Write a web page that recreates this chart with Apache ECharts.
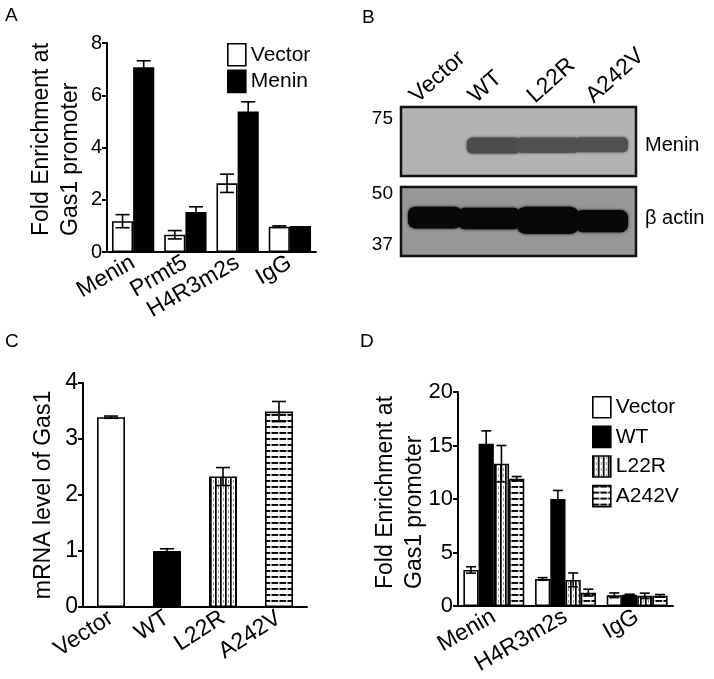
<!DOCTYPE html>
<html><head><meta charset="utf-8">
<script src="https://cdn.jsdelivr.net/npm/echarts@6/dist/echarts.min.js"></script>
<style>html,body{margin:0;padding:0;background:#fff}#c{width:714px;height:679px}</style>
</head><body><div id="c"></div>
<script>
// ---------- Panel A data ----------
const aCategories = ['Menin', 'Prmt5', 'H4R3m2s', 'IgG'];
const aVector = [1.18, 0.66, 2.63, 0.97];
const aVectorErr = [0.25, 0.16, 0.35, 0.03];
const aMenin = [7.07, 1.53, 5.38, 1.0];
const aMeninErr = [0.25, 0.2, 0.37, 0];
const aTicks = [0, 2, 4, 6, 8];
const aTitle = 'Fold Enrichment at\nGas1 promoter';

// ---------- Panel B data (western blot) ----------
const bLanes = ['Vector', 'WT', 'L22R', 'A242V'];
// [lane, low kDa, high kDa, density]
const bMeninBands = [[0, 62, 67, 0], [1, 61.6, 67.4, 0.6], [2, 61.8, 67.4, 0.58], [3, 62.0, 67.5, 0.58]];
const bActinBands = [[0, 40.8, 46.4, 1], [1, 40.6, 46.1, 1], [2, 39.5, 46.4, 1], [3, 39.9, 45.5, 1]];
const bMarkersTop = [75];
const bMarkersBottom = [50, 37];
const bRowTop = [['Menin', 64.5]];
const bRowBottom = [['β actin', 43.3]];
const bTopRange = [54.2, 80.2];
const bBottomRange = [34.7, 52.1];

// ---------- Panel C data ----------
const cCategories = ['Vector', 'WT', 'L22R', 'A242V'];
const cValues = [3.39, 1.0, 2.33, 3.49];
const cErr = [0.02, 0.04, 0.16, 0.18];
const cTicks = [0, 1, 2, 3, 4];
const cTitle = 'mRNA level of Gas1';

// ---------- Panel D data ----------
const dCategories = ['Menin', 'H4R3m2s', 'IgG'];
const dVector = [3.37, 2.53, 1.0];
const dVectorErr = [0.3, 0.12, 0.22];
const dWT = [15.17, 10.0, 1.05];
const dWTErr = [1.2, 0.8, 0.05];
const dL22R = [13.3, 2.44, 0.95];
const dL22RErr = [1.7, 0.65, 0.25];
const dA242V = [11.9, 1.25, 0.95];
const dA242VErr = [0.2, 0.32, 0.12];
const dTicks = [0, 5, 10, 15, 20];
const dTitle = 'Fold Enrichment at\nGas1 promoter';

// ---------- styles ----------
const FONT = 'Liberation Sans, Arial, sans-serif';
function makeVPattern() {
  const c = document.createElement('canvas'); c.width = 5; c.height = 6;
  const g = c.getContext('2d');
  g.fillStyle = '#fff'; g.fillRect(0, 0, 5, 6);
  g.fillStyle = '#000'; g.fillRect(0, 0, 1.7, 6);
  g.fillStyle = '#888'; g.fillRect(3, 0, 0.9, 3);
  return c;
}
function makeHPattern() {
  const c = document.createElement('canvas'); c.width = 8; c.height = 6;
  const g = c.getContext('2d');
  g.fillStyle = '#fff'; g.fillRect(0, 0, 8, 6);
  g.fillStyle = '#000'; g.fillRect(0, 0, 6, 1.9);
  g.fillStyle = '#777'; g.fillRect(6.5, 0, 1.5, 1.9);
  return c;
}
const vPat = { image: makeVPattern(), repeat: 'repeat' };
const hPat = { image: makeHPattern(), repeat: 'repeat' };
const styleWhite = { color: '#fff', borderColor: '#000', borderWidth: 1.6 };
const styleBlack = { color: '#000', borderColor: '#000', borderWidth: 1.6 };
const styleV = { color: vPat, borderColor: '#000', borderWidth: 1.6 };
const styleH = { color: hPat, borderColor: '#000', borderWidth: 1.6 };
const cStyles = [styleWhite, styleBlack, styleV, styleH];

function valAxis(idx, ticks, fs, name, nameGap) {
  return {
    type: 'value', gridIndex: idx, min: ticks[0], max: ticks[ticks.length - 1], interval: ticks[1] - ticks[0],
    splitLine: { show: false },
    axisLine: { show: true, lineStyle: { color: '#000', width: 2 } },
    axisTick: { show: true, length: 5, lineStyle: { color: '#000', width: 2 } },
    axisLabel: { color: '#000', fontSize: fs, fontFamily: FONT, margin: 5 },
    name: name, nameLocation: 'middle', nameGap: nameGap,
    nameTextStyle: { color: '#000', fontSize: 23, fontFamily: FONT, lineHeight: 29 }
  };
}
function catAxis(idx, data, rotate, fs) {
  return {
    type: 'category', gridIndex: idx, data: data,
    axisLine: { lineStyle: { color: '#000', width: 2 } },
    axisTick: { alignWithLabel: true, length: 5, lineStyle: { color: '#000', width: 2 } },
    axisLabel: { rotate: rotate, fontSize: fs, color: '#000', fontFamily: FONT, margin: 9, interval: 0 }
  };
}
function errRender(k, n, gap, cap, lw) {
  return function (params, api) {
    const i = api.value(0), lo = api.value(1), hi = api.value(2);
    if (hi - lo <= 0) return;
    const ct = api.coord([i, hi]), cb = api.coord([i, lo]);
    const bw = api.size([1, 0])[0];
    const barW = bw * (1 - gap) / n;
    const x = ct[0] + (k - (n - 1) / 2) * barW;
    const st = { stroke: '#000', lineWidth: lw };
    return { type: 'group', children: [
      { type: 'line', shape: { x1: x, y1: ct[1], x2: x, y2: cb[1] }, style: st },
      { type: 'line', shape: { x1: x - cap, y1: ct[1], x2: x + cap, y2: ct[1] }, style: st },
      { type: 'line', shape: { x1: x - cap, y1: cb[1], x2: x + cap, y2: cb[1] }, style: st }
    ] };
  };
}
function errSeries(xi, vals, errs, k, n, gap, cap) {
  return {
    type: 'custom', xAxisIndex: xi, yAxisIndex: xi, clip: false, z: 5, silent: true,
    data: vals.map((v, i) => [i, v - errs[i], v + errs[i]]),
    encode: { x: 0, y: [1, 2] },
    renderItem: errRender(k, n, gap, cap, 1.6)
  };
}
function bandRender(bands, bg) {
  return function (params, api) {
    const idx = params.dataIndex;
    const lane = api.value(0), lo = api.value(1), hi = api.value(2), d = api.value(3);
    if (!d) return;
    const top = api.coord([lane, hi]), bot = api.coord([lane, lo]);
    const w = params.coordSys.width / bLanes.length;
    const openLeft = idx === 0 || !bands[idx - 1][3];
    const openRight = idx === bands.length - 1 || !bands[idx + 1][3];
    const x0 = top[0] - w / 2 + (openLeft ? 7 : -2);
    const x1 = top[0] + w / 2 - (openRight ? 8 : -2);
    const g = Math.round(bg * (1 - d) + 8 * d);
    const col = 'rgb(' + g + ',' + g + ',' + g + ')';
    const h = bot[1] - top[1];
    return { type: 'rect', shape: { x: x0, y: top[1], width: x1 - x0, height: h, r: h / 3 },
      style: { fill: col, shadowBlur: 3, shadowColor: col } };
  };
}
function markerRender(params, api) {
  const v = api.value(0);
  const p = api.coord([0, v]);
  return { type: 'text', x: params.coordSys.x - 8, y: p[1],
    style: { text: String(v), fill: '#000', font: '19px ' + FONT, align: 'right', verticalAlign: 'middle' } };
}
function rowLabelRender(rows) {
  return function (params, api) {
    const p = api.coord([0, api.value(1)]);
    return { type: 'text', x: params.coordSys.x + params.coordSys.width + 9, y: p[1],
      style: { text: rows[params.dataIndex][0], fill: '#000', font: '20px ' + FONT, align: 'left', verticalAlign: 'middle' } };
  };
}
function laneLabelRender(params, api) {
  const p = api.coord([api.value(0), bTopRange[1]]);
  return { type: 'text', x: p[0] - 17, y: p[1] - 8, rotation: 42 * Math.PI / 180,
    style: { text: bLanes[params.dataIndex], fill: '#000', font: '23px ' + FONT, align: 'left', verticalAlign: 'middle' } };
}
function yTitle(text, x, y) {
  return { type: 'text', x: x, y: y, rotation: Math.PI / 2,
    style: { text: text, fill: '#000', font: '23px ' + FONT, lineHeight: 29, align: 'left', verticalAlign: 'middle' } };
}

const legendBase = {
  orient: 'vertical', icon: 'rect', itemWidth: 18, itemHeight: 22, padding: 0, selectedMode: false,
  textStyle: { fontSize: 21, color: '#000', fontFamily: FONT },
  itemStyle: { borderColor: '#000', borderWidth: 1.6 }
};

const option = {
  animation: false,
  backgroundColor: '#fff',
  textStyle: { fontFamily: FONT },
  graphic: [
    { type: 'text', left: 5, top: 6, style: { text: 'A', font: '19px ' + FONT, fill: '#000' } },
    { type: 'text', left: 362, top: 8, style: { text: 'B', font: '19px ' + FONT, fill: '#000' } },
    { type: 'text', left: 5, top: 332, style: { text: 'C', font: '19px ' + FONT, fill: '#000' } },
    { type: 'text', left: 360, top: 332, style: { text: 'D', font: '19px ' + FONT, fill: '#000' } },
    yTitle(aTitle, 56, 236),
    yTitle(dTitle, 400, 589)
  ],
  legend: [
    Object.assign({}, legendBase, { data: ['Vector', 'Menin'], left: 227, top: 43, itemGap: 3 }),
    Object.assign({}, legendBase, { data: ['Vector', 'WT', 'L22R', 'A242V'], left: 592, top: 396, itemGap: 7, itemHeight: 21 })
  ],
  grid: [
    { left: 107, top: 43, width: 209, height: 209, outerBoundsMode: 'none' },
    { left: 401, top: 107, width: 235, height: 69, show: true, backgroundColor: '#b3b3b3', borderColor: '#111', borderWidth: 2.5, outerBoundsMode: 'none' },
    { left: 401, top: 187, width: 235, height: 69, show: true, backgroundColor: '#979797', borderColor: '#111', borderWidth: 2.5, outerBoundsMode: 'none' },
    { left: 83, top: 383, width: 224, height: 224, outerBoundsMode: 'none' },
    { left: 458, top: 392, width: 215, height: 214, outerBoundsMode: 'none' }
  ],
  xAxis: [
    catAxis(0, aCategories, 30, 23),
    { type: 'category', gridIndex: 1, data: bLanes, show: false },
    { type: 'category', gridIndex: 2, data: bLanes, show: false },
    catAxis(3, cCategories, 33, 23),
    catAxis(4, dCategories, 30, 23)
  ],
  yAxis: [
    valAxis(0, aTicks, 20, '', 20),
    { type: 'log', gridIndex: 1, min: bTopRange[0], max: bTopRange[1], show: false },
    { type: 'log', gridIndex: 2, min: bBottomRange[0], max: bBottomRange[1], show: false },
    valAxis(3, cTicks, 23, cTitle, 25),
    valAxis(4, dTicks, 22, '', 28)
  ],
  series: [
    // Panel A
    { type: 'bar', name: 'Vector', xAxisIndex: 0, yAxisIndex: 0, data: aVector, barGap: '0%', barCategoryGap: '19%', itemStyle: styleWhite },
    { type: 'bar', name: 'Menin', xAxisIndex: 0, yAxisIndex: 0, data: aMenin, barGap: '0%', barCategoryGap: '19%', itemStyle: styleBlack },
    errSeries(0, aVector, aVectorErr, 0, 2, 0.19, 7),
    errSeries(0, aMenin, aMeninErr, 1, 2, 0.19, 7),
    // Panel B
    { type: 'custom', xAxisIndex: 1, yAxisIndex: 1, clip: true, data: bMeninBands, encode: { x: 0, y: [1, 2] }, renderItem: bandRender(bMeninBands, 179) },
    { type: 'custom', xAxisIndex: 2, yAxisIndex: 2, clip: true, data: bActinBands, encode: { x: 0, y: [1, 2] }, renderItem: bandRender(bActinBands, 151) },
    { type: 'custom', xAxisIndex: 1, yAxisIndex: 1, clip: false, data: bMarkersTop.map(v => [v]), encode: { y: 0 }, renderItem: markerRender },
    { type: 'custom', xAxisIndex: 2, yAxisIndex: 2, clip: false, data: bMarkersBottom.map(v => [v]), encode: { y: 0 }, renderItem: markerRender },
    { type: 'custom', xAxisIndex: 1, yAxisIndex: 1, clip: false, data: bRowTop.map(r => [0, r[1]]), encode: { x: 0, y: 1 }, renderItem: rowLabelRender(bRowTop) },
    { type: 'custom', xAxisIndex: 2, yAxisIndex: 2, clip: false, data: bRowBottom.map(r => [0, r[1]]), encode: { x: 0, y: 1 }, renderItem: rowLabelRender(bRowBottom) },
    { type: 'custom', xAxisIndex: 1, yAxisIndex: 1, clip: false, data: bLanes.map((l, i) => [i]), encode: { x: 0 }, renderItem: laneLabelRender },
    // Panel C
    { type: 'bar', name: 'mRNA', xAxisIndex: 3, yAxisIndex: 3, barCategoryGap: '50%',
      data: cValues.map((v, i) => ({ value: v, itemStyle: cStyles[i] })) },
    errSeries(3, cValues, cErr, 0, 1, 0.5, 7),
    // Panel D
    { type: 'bar', name: 'Vector', xAxisIndex: 4, yAxisIndex: 4, data: dVector, barGap: '0%', barCategoryGap: '15%', itemStyle: styleWhite },
    { type: 'bar', name: 'WT', xAxisIndex: 4, yAxisIndex: 4, data: dWT, barGap: '0%', barCategoryGap: '15%', itemStyle: styleBlack },
    { type: 'bar', name: 'L22R', xAxisIndex: 4, yAxisIndex: 4, data: dL22R, barGap: '0%', barCategoryGap: '15%', itemStyle: styleV },
    { type: 'bar', name: 'A242V', xAxisIndex: 4, yAxisIndex: 4, data: dA242V, barGap: '0%', barCategoryGap: '15%', itemStyle: styleH },
    errSeries(4, dVector, dVectorErr, 0, 4, 0.15, 5),
    errSeries(4, dWT, dWTErr, 1, 4, 0.15, 5),
    errSeries(4, dL22R, dL22RErr, 2, 4, 0.15, 5),
    errSeries(4, dA242V, dA242VErr, 3, 4, 0.15, 5)
  ]
};
const chart = echarts.init(document.getElementById('c'), null, { renderer: 'canvas' });
chart.setOption(option);
</script>
</body></html>
